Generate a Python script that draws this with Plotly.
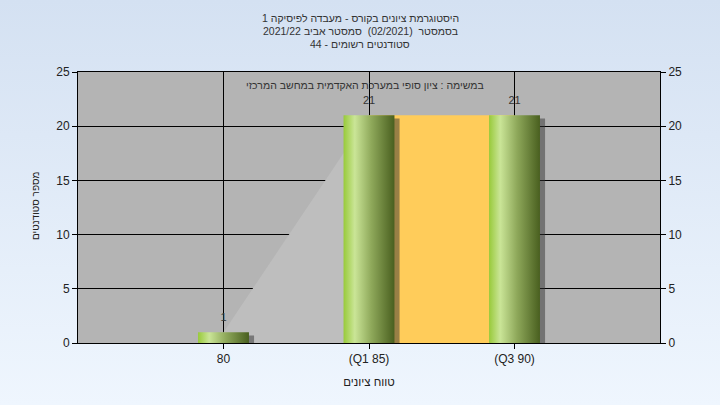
import base64
import plotly.graph_objects as go

# ---- data ----
categories = ["80", "(Q1 85)", "(Q3 90)"]
counts = [1, 21, 21]
q1_index = 1
q3_index = 2
title_lines = [
    "היסטוגרמת ציונים בקורס - מעבדה לפיסיקה 1",
    "בסמסטר  (02/2021)  סמסטר אביב 2021/22",
    "סטודנטים רשומים - 44",
]
subtitle = "במשימה : ציון סופי במערכת האקדמית במחשב המרכזי"
x_title = "טווח ציונים"
y_title = "מספר סטודנטים"
y_ticks = [0, 5, 10, 15, 20, 25]

# ---- layout constants ----
W, H = 720, 405
ml, mr, mt, mb = 78, 60, 72, 62
pw, ph = W - ml - mr, H - mt - mb
FONT = "Liberation Sans, Arial, DejaVu Sans"
bar_w = 0.35
xpos = list(range(len(categories)))


def px_x(px):
    return (px - ml) / pw


def px_y(py):
    return 1 - (py - mt) / ph


fig = go.Figure()

# lighter area rising from first category to Q1
fig.add_trace(go.Scatter(
    x=[xpos[0], xpos[q1_index]], y=[counts[0], counts[q1_index]],
    mode="lines", line=dict(width=0), fill="tozeroy", fillcolor="#BEBEBE",
    hoverinfo="skip", showlegend=False))

# inter-quartile area
fig.add_trace(go.Scatter(
    x=[xpos[q1_index], xpos[q3_index]], y=[counts[q1_index], counts[q3_index]],
    mode="lines", line=dict(width=0), fill="tozeroy", fillcolor="#FFCC5A",
    hoverinfo="skip", showlegend=False))

green_scale = [[0, "#98CA3A"], [0.22, "#CAE597"], [0.55, "#8EA85A"], [1, "#495F1F"]]
sdx, sdy = 0.035, 0.3
for xi, v in zip(xpos, counts):
    x0, x1 = xi - bar_w / 2, xi + bar_w / 2
    # shadow
    fig.add_trace(go.Scatter(
        x=[x0 + sdx, x1 + sdx, x1 + sdx, x0 + sdx, x0 + sdx],
        y=[-sdy, -sdy, v - sdy, v - sdy, -sdy],
        mode="lines", line=dict(width=0), fill="toself",
        fillcolor="rgba(50,50,50,0.5)", hoverinfo="skip", showlegend=False))
    # cylinder bar
    fig.add_trace(go.Scatter(
        x=[x0, x1, x1, x0, x0], y=[0, 0, v, v, 0],
        mode="lines", line=dict(width=0), fill="toself",
        fillgradient=dict(type="horizontal", colorscale=green_scale),
        hoverinfo="skip", showlegend=False))

# value labels
fig.add_trace(go.Scatter(
    x=xpos, y=counts, mode="markers+text", text=[str(c) for c in counts],
    marker=dict(size=12, opacity=0),
    textposition="top center", textfont=dict(family=FONT, size=11, color="#333"),
    hoverinfo="skip", showlegend=False))

# right axis dummy
fig.add_trace(go.Scatter(x=[xpos[0]], y=[0], yaxis="y2", mode="markers",
                         marker=dict(opacity=0), hoverinfo="skip", showlegend=False))

svg = ('<svg xmlns="http://www.w3.org/2000/svg" width="720" height="405">'
       '<defs><linearGradient id="g" x1="0" y1="0" x2="0" y2="1">'
       '<stop offset="0" stop-color="#D4E1F2"/><stop offset="1" stop-color="#EFF6FE"/>'
       '</linearGradient></defs><rect width="720" height="405" fill="url(#g)"/></svg>')
src = "data:image/svg+xml;base64," + base64.b64encode(svg.encode()).decode()

axis_font = dict(family=FONT, size=12, color="#222")
annots = []
for i, line in enumerate(title_lines):
    annots.append(dict(text=line, xref="paper", yref="paper",
                       x=px_x(W / 2), y=px_y(18 + 13 * i), xanchor="center", yanchor="middle",
                       showarrow=False, font=dict(family=FONT, size=10.5, color="#333")))
annots.append(dict(text=subtitle, xref="paper", yref="paper",
                   x=px_x(365), y=px_y(85), xanchor="center", yanchor="middle",
                   showarrow=False, font=dict(family=FONT, size=10.5, color="#333")))
annots.append(dict(text=y_title, xref="paper", yref="paper",
                   x=px_x(35), y=px_y(206), xanchor="center", yanchor="middle",
                   textangle=-90, showarrow=False,
                   font=dict(family=FONT, size=10, color="#222")))

fig.update_layout(
    width=W, height=H,
    margin=dict(l=ml, r=mr, t=mt, b=mb),
    paper_bgcolor="#E2EBF7", plot_bgcolor="rgba(0,0,0,0)",
    images=[dict(source=src, xref="paper", yref="paper",
                 x=-ml / pw, y=1 + mt / ph, sizex=W / pw, sizey=H / ph,
                 xanchor="left", yanchor="top", sizing="stretch", layer="below")],
    shapes=[dict(type="rect", xref="paper", yref="paper", x0=0, x1=1, y0=0, y1=1,
                 fillcolor="#B4B4B4", line=dict(width=0), layer="below")],
    xaxis=dict(range=[-1, len(categories)], tickvals=xpos, ticktext=categories,
               showgrid=True, gridcolor="black", gridwidth=1,
               showline=True, linecolor="black", linewidth=1, mirror=True,
               ticks="outside", ticklen=5, tickcolor="black", tickfont=axis_font,
               zeroline=False,
               title=dict(text=x_title, font=dict(family=FONT, size=11.5, color="#222"), standoff=12)),
    yaxis=dict(range=[0, 25], tickvals=y_ticks, showgrid=True, gridcolor="black", gridwidth=1,
               showline=True, linecolor="black", linewidth=1, mirror=True,
               ticks="outside", ticklen=5, tickcolor="black", tickfont=axis_font,
               zeroline=False),
    yaxis2=dict(range=[0, 25], tickvals=y_ticks, overlaying="y", side="right",
                showgrid=False, showline=False, ticks="outside", ticklen=5,
                tickcolor="black", tickfont=axis_font, zeroline=False),
    annotations=annots,
)

fig.write_html("out.html", config={"displayModeBar": False},
               post_script="document.body.style.margin='0';")
